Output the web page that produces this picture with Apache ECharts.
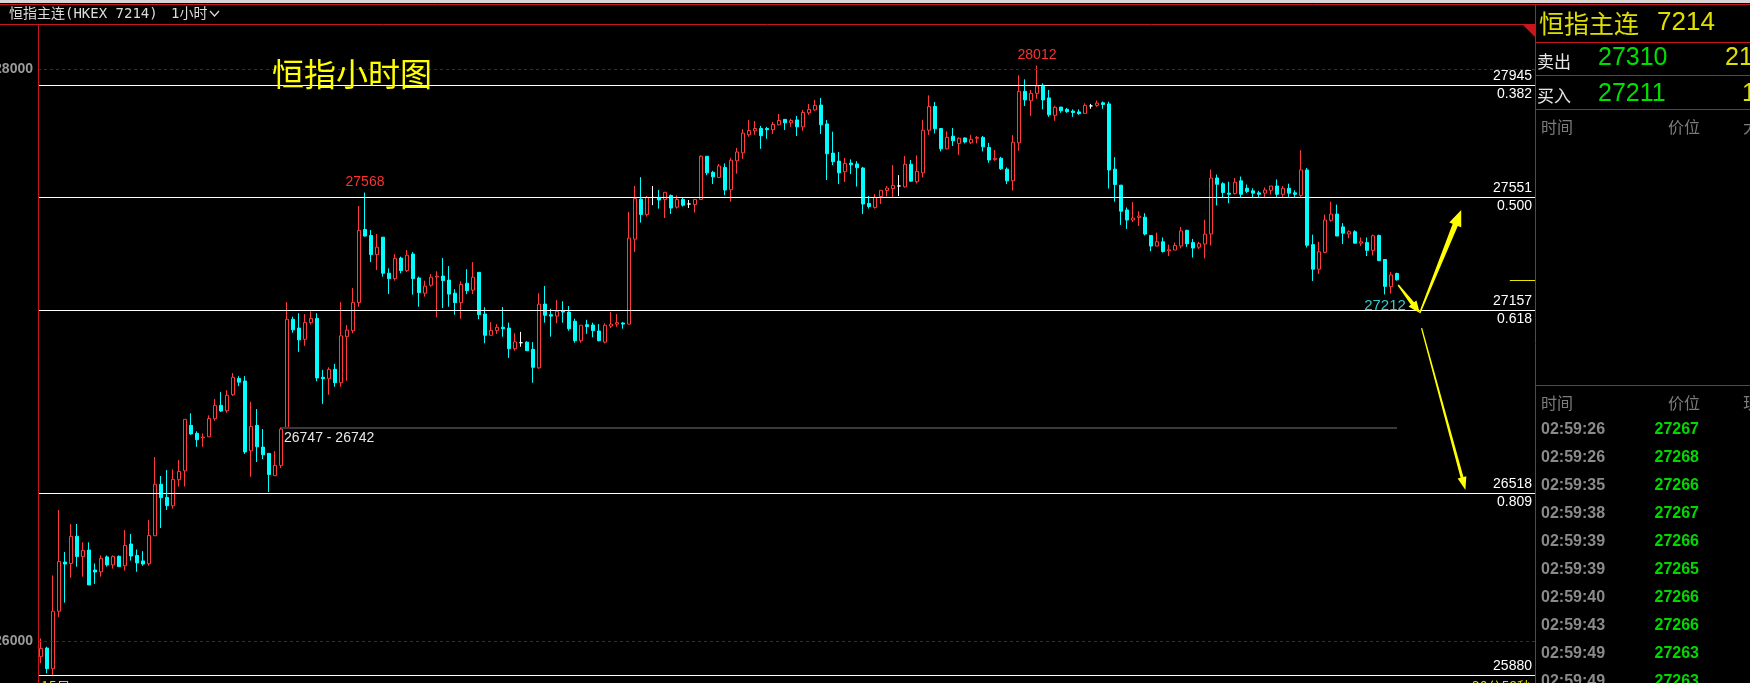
<!DOCTYPE html>
<html><head><meta charset="utf-8">
<script src="https://cdn.jsdelivr.net/npm/echarts@6/dist/echarts.min.js"></script>
<style>html,body{margin:0;padding:0;background:#000;overflow:hidden}#c{width:1750px;height:683px}</style>
</head><body><div id="c"></div>
<script>
// ---------------- data ----------------
const openP = [
25945,25975,25903,26104,26276,26271,26366,26295,26318,26248,
26242,26294,26266,26296,26263,26339,26299,26280,26270,26368,
26548,26502,26473,26564,26595,26754,26726,26710,26714,26777,
26824,26805,26861,26918,26909,26665,26754,26678,26656,26578,
26614,26747,27125,27094,27055,27113,27128,26922,26917,26950,
26903,27064,27085,27183,27439,27418,27351,27412,27286,27267,
27339,27295,27353,27269,27216,27244,27273,27276,27262,27216,
27183,27251,27227,27289,27143,27069,27086,27097,27094,27022,
27043,27045,27020,26955,27178,27141,27136,27154,27150,27118,
27050,27106,27105,27084,27045,27101,27108,27112,27108,27405,
27545,27491,27551,27551,27544,27558,27517,27544,27528,27526,
27544,27695,27639,27621,27656,27578,27679,27707,27770,27784,
27792,27792,27788,27805,27824,27812,27822,27798,27847,27857,
27874,27808,27706,27678,27641,27671,27668,27654,27530,27516,
27554,27575,27582,27591,27588,27667,27606,27637,27786,27869,
27792,27721,27765,27740,27759,27742,27758,27761,27726,27684,
27688,27650,27609,27742,27922,27889,27915,27943,27899,27838,
27867,27859,27853,27850,27845,27871,27873,27882,27878,27650,
27594,27507,27472,27481,27482,27418,27381,27396,27364,27367,
27381,27436,27393,27377,27388,27423,27619,27599,27566,27565,
27609,27583,27574,27567,27566,27576,27591,27562,27583,27567,
27558,27647,27386,27300,27359,27471,27493,27448,27423,27431,
27391,27393,27366,27418,27334,27239,27285];
const closeP = [
25974,25903,26104,26278,26269,26366,26295,26317,26196,26241,
26289,26266,26296,26260,26334,26297,26273,26269,26369,26548,
26501,26473,26565,26593,26775,26724,26704,26713,26778,26824,
26804,26859,26922,26905,26661,26750,26679,26651,26582,26614,
26741,27125,27088,27053,27114,27128,26920,26917,26950,26903,
27067,27087,27184,27436,27416,27351,27377,27286,27267,27338,
27295,27349,27267,27218,27241,27272,27276,27260,27213,27183,
27247,27225,27272,27141,27069,27086,27097,27092,27022,27046,
27043,27015,26957,27178,27139,27136,27153,27150,27092,27050,
27104,27099,27085,27050,27104,27108,27113,27108,27409,27547,
27491,27551,27551,27542,27569,27514,27544,27524,27528,27544,
27695,27637,27623,27661,27577,27681,27710,27776,27785,27792,
27767,27788,27806,27820,27812,27820,27798,27848,27859,27873,
27805,27704,27676,27637,27670,27665,27655,27528,27519,27551,
27576,27584,27593,27591,27667,27608,27642,27786,27869,27791,
27721,27761,27749,27758,27745,27754,27761,27728,27682,27688,
27651,27609,27744,27922,27892,27915,27941,27892,27840,27866,
27854,27851,27848,27844,27873,27871,27881,27876,27647,27596,
27503,27472,27479,27486,27423,27381,27396,27362,27368,27383,
27434,27389,27374,27389,27423,27619,27597,27568,27562,27604,
27562,27572,27566,27562,27577,27591,27562,27583,27566,27562,
27647,27384,27300,27361,27472,27493,27416,27426,27431,27391,
27396,27366,27417,27330,27240,27280,27263];
const lowP = [
25922,25887,25881,26083,26134,26221,26260,26225,26196,26200,
26225,26260,26253,26260,26246,26281,26242,26263,26263,26368,
26395,26458,26463,26540,26540,26721,26679,26679,26714,26770,
26801,26798,26857,26891,26654,26574,26626,26636,26521,26578,
26605,26742,27078,27011,27032,27106,26908,26829,26861,26889,
26889,26910,27076,27169,27414,27325,27297,27274,27213,27260,
27286,27290,27211,27169,27204,27239,27132,27164,27169,27141,
27127,27213,27213,27125,27041,27069,27074,27064,26990,27015,
27029,27015,26903,26952,27113,27064,27111,27113,27085,27043,
27043,27074,27062,27048,27041,27094,27099,27092,27108,27360,
27463,27484,27524,27512,27479,27493,27512,27519,27514,27498,
27544,27629,27598,27619,27559,27536,27634,27686,27763,27770,
27721,27756,27773,27803,27787,27798,27766,27784,27840,27854,
27773,27612,27664,27598,27605,27633,27589,27493,27512,27512,
27528,27554,27551,27556,27586,27605,27600,27621,27770,27775,
27712,27719,27731,27700,27740,27738,27740,27712,27672,27679,
27647,27598,27575,27714,27871,27836,27896,27859,27833,27819,
27847,27847,27833,27840,27845,27861,27868,27861,27582,27536,
27455,27441,27465,27451,27418,27363,27381,27358,27346,27367,
27373,27378,27341,27371,27338,27383,27523,27551,27531,27561,
27551,27566,27551,27551,27553,27561,27553,27553,27553,27553,
27553,27376,27259,27283,27356,27466,27416,27388,27408,27391,
27381,27346,27348,27330,27212,27215,27260];
const highP = [
26009,25980,26229,26458,26311,26409,26409,26345,26345,26271,
26299,26299,26299,26299,26388,26374,26320,26314,26423,26643,
26577,26598,26600,26633,26775,26796,26733,26726,26789,26846,
26870,26877,26937,26926,26926,26836,26811,26741,26656,26664,
26747,27185,27134,27146,27143,27153,27146,26948,26957,26969,
27185,27105,27234,27521,27568,27437,27423,27412,27303,27353,
27344,27367,27360,27274,27260,27283,27293,27339,27311,27230,
27258,27300,27325,27289,27167,27115,27108,27168,27113,27076,
27081,27048,27045,27216,27241,27162,27192,27188,27171,27127,
27104,27123,27113,27108,27111,27150,27143,27115,27500,27591,
27622,27556,27591,27577,27569,27561,27558,27551,27542,27544,
27698,27695,27644,27668,27670,27689,27724,27790,27822,27818,
27801,27798,27815,27843,27824,27826,27836,27857,27878,27892,
27899,27822,27781,27710,27689,27684,27678,27658,27556,27563,
27576,27591,27664,27629,27696,27682,27698,27822,27908,27885,
27792,27782,27794,27761,27761,27770,27766,27766,27742,27717,
27693,27656,27769,27978,27964,27927,28012,27950,27927,27871,
27867,27864,27859,27859,27880,27878,27890,27887,27886,27692,
27594,27516,27535,27503,27496,27418,27428,27411,27386,27393,
27448,27438,27406,27396,27473,27649,27631,27604,27606,27619,
27624,27596,27583,27574,27586,27591,27614,27591,27599,27576,
27716,27654,27421,27396,27491,27536,27526,27461,27436,27436,
27411,27411,27421,27421,27334,27290,27288];

const slotCount = 250;                       // hourly slots on the x axis (incl. empty right margin)
const categories = Array.from({length: slotCount}, (_, i) => 'H' + i);
const fibPrices = [27945, 27551, 27157, 26518, 25880];
const fibRatios = ['0.382', '0.500', '0.618', '0.809', ''];
const roundPrices = [28000, 26000];
const rangeLine = [40, 226, 26747];           // [from slot, to slot, price]
const rangeText = '26747 - 26742';
const peakMarks = [[54, 27568], [166, 28012]];
const lowMarks = [[224, 27212]];
const lastPrice = 27263;
const arrowPaths = [                          // [slot0, price0, slot1, price1]
  [226.2, 27245, 229.8, 27147],
  [229.8, 27147, 236.7, 27507],
  [230.1, 27094, 237.4, 26528]
];
const askPrice = 27310, askVol = '21';
const bidPrice = 27211, bidVol = '1';
const tickTimes = ['02:59:26','02:59:26','02:59:35','02:59:38','02:59:39','02:59:39','02:59:40','02:59:43','02:59:49','02:59:49'];
const tickPrices = [27267,27268,27266,27267,27266,27265,27266,27266,27263,27263];

// ---------------- chart ----------------
const chart = echarts.init(document.getElementById('c'), null, {renderer: 'canvas'});
const candleData = openP.map((o, i) => [o, closeP[i], lowP[i], highP[i]]);

const RED = '#ff3b3b', CYAN = '#00ffff', FRAME = '#c8161d';
const numFont = '"Liberation Sans", Arial, sans-serif';
const cjkFont = '"Noto Sans CJK SC", sans-serif';
const monoFont = '"DejaVu Sans Mono", "Noto Sans CJK SC", monospace';

const markLines = [];
fibPrices.forEach((p, i) => {
  markLines.push({yAxis: p, lineStyle: {color: '#ffffff', width: 1, type: 'solid'},
    label: {show: true, position: 'insideEndTop', formatter: String(p), color: '#ffffff',
      fontSize: 14, fontFamily: numFont, distance: [6, 2]}});
  if (fibRatios[i]) markLines.push({yAxis: p, lineStyle: {color: '#ffffff', width: 1, type: 'solid'},
    label: {show: true, position: 'insideEndBottom', formatter: fibRatios[i], color: '#ffffff',
      fontSize: 14, fontFamily: numFont, distance: [6, 2]}});
});
roundPrices.forEach(p => markLines.push({yAxis: p,
  lineStyle: {color: '#8a0c0c', width: 1, type: [3, 3]},
  label: {show: true, position: 'start', formatter: String(p), color: '#9a9a9a',
    fontSize: 14, fontWeight: 'bold', fontFamily: numFont, distance: 5}}));
markLines.push([
  {coord: [rangeLine[0], rangeLine[2]], lineStyle: {color: '#3a3a3a', width: 2, type: 'solid'},
   label: {show: true, position: 'insideStartBottom', formatter: rangeText, color: '#e8e8e8',
     fontSize: 14, fontFamily: numFont, distance: [3, 4]}},
  {coord: [rangeLine[1], rangeLine[2]]}
]);

const markPoints = [];
peakMarks.forEach(m => markPoints.push({coord: m, value: m[1],
  label: {show: true, position: 'top', distance: 3, color: '#ff3030', fontSize: 14, fontFamily: numFont, formatter: String(m[1])}}));
lowMarks.forEach(m => markPoints.push({coord: m, value: m[1],
  label: {show: true, position: 'bottom', distance: 3, color: '#33cccc', fontSize: 15, fontFamily: numFont, formatter: String(m[1])}}));

const arrowStyle = [
  {tail: 1.5, shaft: 4, headLen: 12, headW: 10},
  {tail: 1.5, shaft: 5.5, headLen: 16, headW: 13},
  {tail: 1.3, shaft: 3, headLen: 13, headW: 9}
];

function renderArrow(params, api) {
  const p0 = api.coord([api.value(0), api.value(1)]);
  const p1 = api.coord([api.value(2), api.value(3)]);
  const st = arrowStyle[params.dataIndex];
  const dx = p1[0] - p0[0], dy = p1[1] - p0[1];
  const len = Math.sqrt(dx * dx + dy * dy);
  const ux = dx / len, uy = dy / len, nx = -uy, ny = ux;
  const hb = [p1[0] - ux * st.headLen, p1[1] - uy * st.headLen];
  const pts = [
    [p0[0] + nx * st.tail / 2, p0[1] + ny * st.tail / 2],
    [hb[0] + nx * st.shaft / 2, hb[1] + ny * st.shaft / 2],
    [hb[0] + nx * st.headW / 2, hb[1] + ny * st.headW / 2],
    p1,
    [hb[0] - nx * st.headW / 2, hb[1] - ny * st.headW / 2],
    [hb[0] - nx * st.shaft / 2, hb[1] - ny * st.shaft / 2],
    [p0[0] - nx * st.tail / 2, p0[1] - ny * st.tail / 2]
  ];
  return {type: 'polygon', shape: {points: pts}, style: {fill: '#ffff00'}};
}

function renderPriceTag(params, api) {
  const a = api.coord([api.value(0), api.value(2)]);
  const b = api.coord([api.value(1), api.value(2)]);
  const y = Math.round(a[1]) + 0.5;
  return {type: 'line', shape: {x1: a[0], y1: y, x2: b[0], y2: y}, style: {stroke: '#e6e600', lineWidth: 1}};
}

// ---------------- frame / side panel ----------------
const PX = 1535;
const g = [];
const Z = 100;
function line(x1, y1, x2, y2, c, w) { g.push({type: 'line', z: Z + 1, shape: {x1, y1, x2, y2}, style: {stroke: c, lineWidth: w || 1}}); }
function text(x, y, t, fill, font, align) {
  g.push({type: 'text', z: Z + 2, x, y, style: {text: t, fill, font, textAlign: align || 'left', align: align || 'left',
    textVerticalAlign: 'middle', verticalAlign: 'middle'}});
}
g.push({type: 'rect', z: Z, shape: {x: PX, y: 0, width: 1750 - PX, height: 683}, style: {fill: '#000'}});
g.push({type: 'rect', z: Z, shape: {x: 0, y: 0, width: 1750, height: 24}, style: {fill: '#000'}});
g.push({type: 'rect', z: Z + 1, shape: {x: 0, y: 0, width: 1750, height: 3}, style: {fill: '#d6d6d6'}});
line(0, 4.5, 1750, 4.5, FRAME);
line(0, 24.5, PX, 24.5, FRAME);
line(38.5, 24, 38.5, 683, FRAME);
line(PX + 0.5, 4, PX + 0.5, 683, FRAME);
[42.5, 75.5, 109.5, 385.5].forEach(y => line(PX, y, 1750, y, FRAME));
g.push({type: 'polygon', z: Z + 1, shape: {points: [[1523, 25], [PX, 25], [PX, 37]]}, style: {fill: '#c8161d'}});

text(9, 14, '恒指主连(HKEX 7214)', '#dcdcdc', '14px ' + monoFont);
text(171, 14, '1小时', '#dcdcdc', '14px ' + monoFont);
g.push({type: 'polyline', z: Z + 1, shape: {points: [[210, 11], [214.5, 16], [219, 11]]}, style: {stroke: '#dcdcdc', lineWidth: 1.2, fill: null}});

text(272, 74, '恒指小时图', '#ffff00', '32px ' + cjkFont);

text(1539, 23, '恒指主连', '#e0e000', '25px ' + cjkFont);
text(1657, 23, '7214', '#e0e000', '26px ' + numFont);
text(1537, 62, '卖出', '#e6e6e6', '17px ' + cjkFont);
text(1598, 58, String(askPrice), '#00e000', '25px ' + numFont);
text(1725, 58, askVol, '#e0e000', '25px ' + numFont);
text(1537, 96, '买入', '#e6e6e6', '17px ' + cjkFont);
text(1598, 94, String(bidPrice), '#00e000', '25px ' + numFont);
text(1742, 94, bidVol, '#e0e000', '25px ' + numFont);
text(1541, 127, '时间', '#7c7c7c', '16px ' + cjkFont);
text(1700, 127, '价位', '#7c7c7c', '16px ' + cjkFont, 'right');
text(1743, 127, '大', '#7c7c7c', '16px ' + cjkFont);
text(1541, 403, '时间', '#7c7c7c', '16px ' + cjkFont);
text(1700, 403, '价位', '#7c7c7c', '16px ' + cjkFont, 'right');
text(1743, 403, '现', '#7c7c7c', '16px ' + cjkFont);
tickTimes.forEach((t, i) => {
  const y = 429.5 + i * 28;
  text(1541, y, t, '#8a8a8a', 'bold 16px ' + numFont);
  text(1699, y, String(tickPrices[i]), '#00d800', 'bold 16px ' + numFont, 'right');
});
text(1472, 687, '30分58秒', '#d8d800', '14px ' + cjkFont);
text(41, 687, '15日', '#d8d800', '14px ' + cjkFont);

const option = {
  backgroundColor: '#000000',
  animation: false,
  grid: {left: 38, right: 212, top: 25, bottom: 0, show: false},
  xAxis: [
    {type: 'category', data: categories, show: false, boundaryGap: true},
    {type: 'value', min: -0.5, max: slotCount - 0.5, show: false}
  ],
  yAxis: [{type: 'value', min: 25853, max: 28154, show: false, splitLine: {show: false}}],
  series: [
    {
      type: 'candlestick', xAxisIndex: 0, yAxisIndex: 0, data: candleData, barWidth: 4,
      itemStyle: {color: '#000000', color0: CYAN, borderColor: RED, borderColor0: CYAN,
        borderColorDoji: '#ffffff', borderWidth: 1},
      markLine: {silent: true, symbol: ['none', 'none'], animation: false, data: markLines},
      markPoint: {silent: true, symbol: 'rect', symbolSize: 1, itemStyle: {color: 'rgba(0,0,0,0)'},
        animation: false, data: markPoints}
    },
    {
      type: 'custom', xAxisIndex: 1, yAxisIndex: 0, renderItem: renderArrow, z: 20,
      data: arrowPaths, silent: true
    },
    {
      type: 'custom', xAxisIndex: 1, yAxisIndex: 0, renderItem: renderPriceTag, z: 20,
      data: [[244.8, slotCount - 0.5, lastPrice]], silent: true
    }
  ],
  graphic: {elements: g}
};
chart.setOption(option);
</script>
</body></html>
